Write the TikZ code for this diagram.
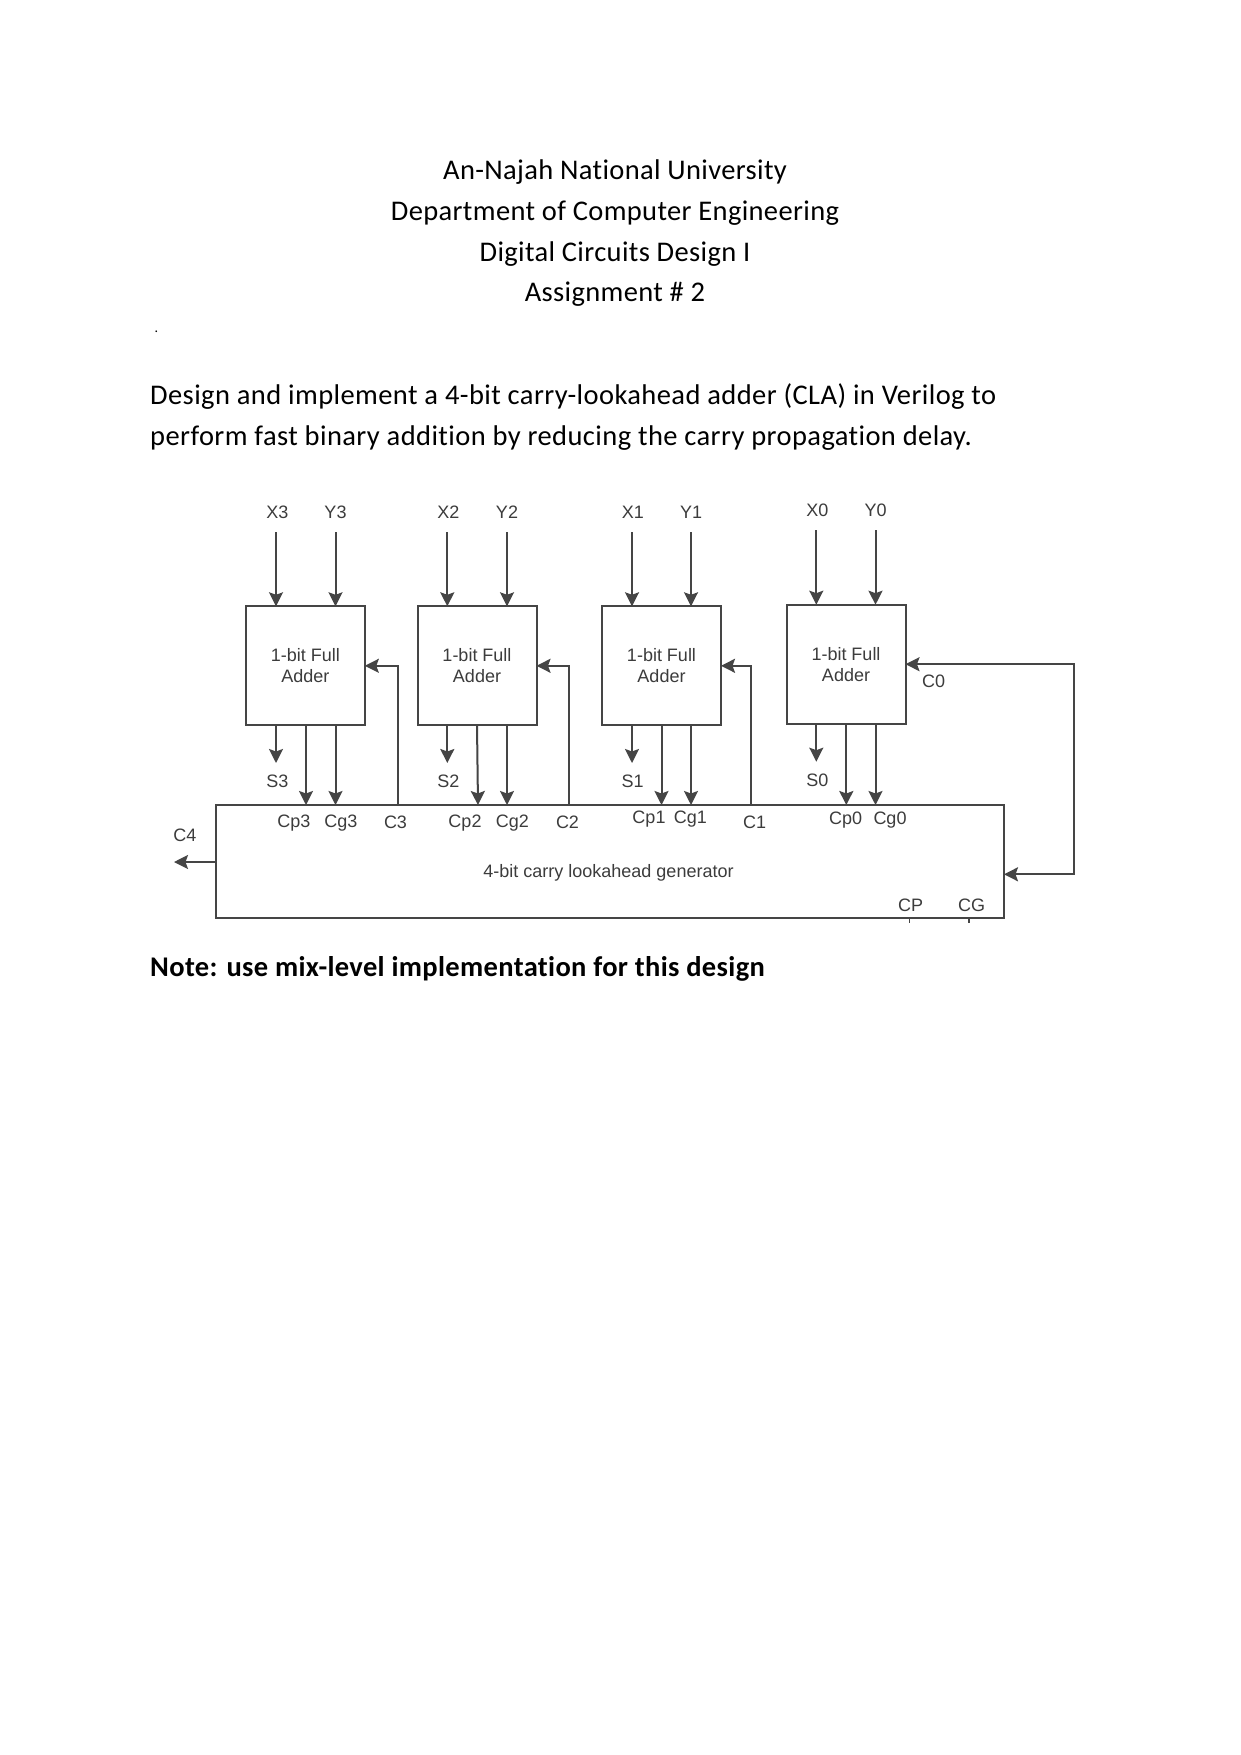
\documentclass[tikz,border=0pt]{standalone}
\usepackage{fontspec}
\setmainfont[Ligatures=CommonOff,LetterSpace=1.25]{Carlito}
\newfontfamily\bodyfont[Ligatures=CommonOff,LetterSpace=1.45]{Carlito}
\newfontfamily\diagfont{Liberation Sans}
\usetikzlibrary{arrows.meta}
\definecolor{wirecol}{HTML}{454545}
\definecolor{labcol}{HTML}{3C3C3C}
\tikzset{
  wire/.style={draw=wirecol,line width=2pt,-{Stealth[length=14pt,width=14pt,inset=2.5pt]}},
  plainwire/.style={draw=wirecol,line width=1.5pt},
  bothwire/.style={draw=wirecol,line width=2pt,{Stealth[length=14pt,width=14pt,inset=2.5pt]}-{Stealth[length=14pt,width=14pt,inset=2.5pt]}},
  fabox/.style={draw=wirecol,line width=2pt,minimum width=119pt,minimum height=119pt,inner sep=0pt,outer sep=0pt,align=center,text=labcol,font=\diagfont\fontsize{18}{21.7}\selectfont},
  genbox/.style={draw=wirecol,line width=2pt,minimum width=788pt,minimum height=113.3pt,inner sep=0pt,outer sep=0pt},
  lab/.style={inner sep=0pt,text=labcol,font=\diagfont\fontsize{18}{21}\selectfont},
  doctext/.style={inner sep=0pt,anchor=base,text=black,font=\fontsize{28.5}{34}\selectfont},
  docleft/.style={doctext,anchor=base west,font=\bodyfont\fontsize{28.5}{34}\selectfont},
}
\begin{document}
\begin{tikzpicture}[x=1pt,y=-1pt]
\useasboundingbox (0,0) rectangle (1241,1755);
\fill[white] (0,0) rectangle (1241,1755);
% document text
\node[doctext] (t1) at (615,179) {An-Najah National University};
\node[doctext] (t2) at (615,220) {Department of Computer Engineering};
\node[doctext] (t3) at (615,261) {Digital Circuits Design I};
\node[doctext] (t4) at (615,301.5) {Assignment \# 2};
\node[docleft,font=\fontsize{14}{16}\selectfont] (dot) at (154.5,332) {.};
\node[docleft] (b1) at (150,404.5) {Design and implement a 4-bit carry-lookahead adder (CLA) in Verilog to};
\node[docleft] (b2) at (150,445.5) {perform fast binary addition by reducing the carry propagation delay.};
\node[docleft,font=\bfseries\fontsize{28.5}{34}\selectfont] (note) at (150,976.5) {Note: use mix-level implementation for this design};
% blocks
\node[fabox] (fa3) at (305.3,665.8) {1-bit Full\\[-0.5pt]Adder};
\node[fabox] (fa2) at (477,665.8) {1-bit Full\\[-0.5pt]Adder};
\node[fabox] (fa1) at (661.5,665.8) {1-bit Full\\[-0.5pt]Adder};
\node[fabox] (fa0) at (846,664.2) {1-bit Full\\[-0.5pt]Adder};
\node[genbox] (gen) at (610,861.65) {};
\node[lab] (gentext) at (608.5,872.5) {4-bit carry lookahead generator};
% bit connectors
\foreach \n/\xa/\xb/\xc/\yt/\ys/\xl/\yl/\xsl/\ysl/\xp/\xpe in {
  3/276/306/335.5/532/763/277.3/512.7/277.3/781/294/306,
  2/447.3/477/507/532/763/448.3/512.7/448.3/781/465/478,
  1/632/661.5/691/532/763/632.8/512.7/632.7/781/649/661.5,
  0/816.3/846.3/875.5/530/761.7/817.3/510/817.3/780/845.7/846.3}
{
  \coordinate (xin\n) at (\xa,\yt);
  \coordinate (yin\n) at (\xc,\yt);
  \coordinate (sout\n) at (\xa,\ys);
  \coordinate (cpa\n) at (\xb,0);
  \coordinate (cpb\n) at (\xpe,0);
  \coordinate (cga\n) at (\xc,0);
  \node[lab] (lx\n) at (\xl,\yl) {X\n};
  \node[lab] (ly\n) at (\xc,\yl) {Y\n};
  \node[lab] (ls\n) at (\xsl,\ysl) {S\n};
  \draw[wire] (xin\n) -- (fa\n.north -| xin\n);
  \draw[wire] (yin\n) -- (fa\n.north -| yin\n);
  \draw[wire] (fa\n.south -| sout\n) -- (sout\n);
  \draw[wire] (fa\n.south -| cpa\n) -- (gen.north -| cpb\n);
  \draw[wire] (fa\n.south -| cga\n) -- (gen.north -| cga\n);
}
% lookahead pin labels
\node[lab] (lcp3) at (294,822.7) {Cp3};
\node[lab] (lcg3) at (341,822.7) {Cg3};
\node[lab] (lc3) at (395.5,822.7) {C3};
\node[lab] (lcp2) at (465,822.7) {Cp2};
\node[lab] (lcg2) at (512.3,822.7) {Cg2};
\node[lab] (lc2) at (567.5,822.7) {C2};
\node[lab] (lcp1) at (649,819) {Cp1};
\node[lab] (lcg1) at (690.3,819) {Cg1};
\node[lab] (lc1) at (754.7,822.7) {C1};
\node[lab] (lcp0) at (845.7,820) {Cp0};
\node[lab] (lcg0) at (890,820) {Cg0};
\node[lab] (lc4) at (185,835) {C4};
\node[lab] (lc0) at (933.5,681.7) {C0};
\node[lab] (lcp) at (910.7,905) {CP};
\node[lab] (lcg) at (971.7,905) {CG};
% carries
\coordinate (c3) at (397.5,0);
\coordinate (c2) at (568.5,0);
\coordinate (c1) at (751.3,0);
\draw[wire] (gen.north -| c3) -- (c3 |- fa3.east) -- (fa3.east);
\draw[wire] (gen.north -| c2) -- (c2 |- fa2.east) -- (fa2.east);
\draw[wire] (gen.north -| c1) -- (c1 |- fa1.east) -- (fa1.east);
\coordinate (rail) at (1073.5,0);
\coordinate (genin) at (gen.east |- 0,874.3);
\draw[bothwire] (fa0.east) -- (fa0.east -| rail) -- (rail |- genin) -- (genin);
\coordinate (c4end) at (174,862);
\draw[wire] (gen.west |- c4end) -- (c4end);
% stubs below the generator
\coordinate (cpend) at (909.5,922.5);
\coordinate (cgend) at (969,922.5);
\draw[plainwire] (gen.south -| cpend) -- (cpend);
\draw[plainwire] (gen.south -| cgend) -- (cgend);
\end{tikzpicture}
\end{document}
